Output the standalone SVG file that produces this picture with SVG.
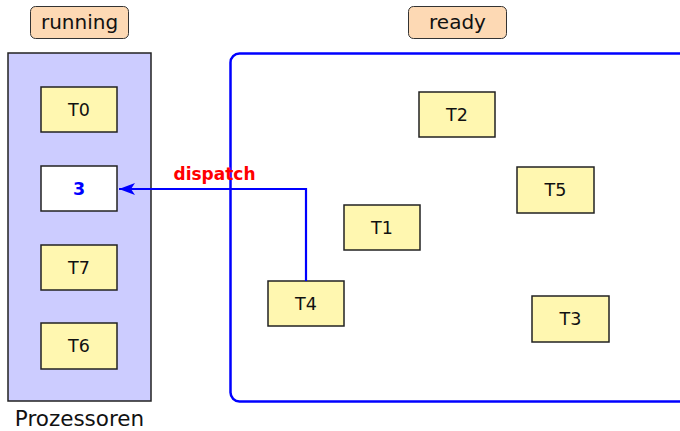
<svg xmlns="http://www.w3.org/2000/svg" width="680" height="431" viewBox="0 0 680 431">
<defs>
<style>
text{font-family:"DejaVu Sans","Liberation Sans",sans-serif;text-anchor:middle}
.tag{fill:#fdd9b4;stroke:#333;stroke-width:1}
.task{fill:#fff7b0;stroke:#222;stroke-width:1.5}
.lbl{font-size:17.5px;fill:#111}
</style>
<marker id="ah" markerWidth="18" markerHeight="14" refX="17" refY="7" orient="auto" markerUnits="userSpaceOnUse">
<path d="M1,1 L17,7 L1,13 L5,7 Z" fill="#0000ff"/>
</marker>
</defs>
<g id="running-tag"><rect class="tag" x="30.5" y="6.5" width="98" height="32" rx="5"/><text x="79.5" y="29" style="font-size:20px" fill="#111">running</text></g>
<g id="ready-tag"><rect class="tag" x="408.5" y="6.5" width="98" height="32" rx="5"/><text x="457.5" y="29" style="font-size:20px" fill="#111">ready</text></g>
<g id="processors"><rect x="8" y="53" width="143" height="348" fill="#ccccff" stroke="#222" stroke-width="1.5"/><text x="79.5" y="426" style="font-size:21.5px" fill="#111">Prozessoren</text></g>
<g id="ready-pool"><rect x="230.5" y="53.5" width="460" height="348" rx="9" fill="none" stroke="#0000ff" stroke-width="2.5"/></g>
<g id="T0"><rect class="task" x="41" y="87" width="76" height="45"/><text class="lbl" x="79" y="116">T0</text></g>
<g id="slot3"><rect x="41" y="166" width="76" height="45" fill="#fff" stroke="#222" stroke-width="1.5"/><text x="79" y="195" style="font-size:17.5px;font-weight:bold" fill="#0000ff">3</text></g>
<g id="T7"><rect class="task" x="41" y="245" width="76" height="45"/><text class="lbl" x="79" y="274">T7</text></g>
<g id="T6"><rect class="task" x="41" y="323" width="76" height="46"/><text class="lbl" x="79" y="352">T6</text></g>
<g id="T2"><rect class="task" x="419" y="92" width="76" height="45"/><text class="lbl" x="457" y="121">T2</text></g>
<g id="T5"><rect class="task" x="517" y="167" width="77" height="46"/><text class="lbl" x="555.5" y="196">T5</text></g>
<g id="T1"><rect class="task" x="344" y="205" width="76" height="45"/><text class="lbl" x="382" y="234">T1</text></g>
<g id="T4"><rect class="task" x="268" y="281" width="76" height="45"/><text class="lbl" x="306" y="310">T4</text></g>
<g id="T3"><rect class="task" x="532" y="296" width="77" height="46"/><text class="lbl" x="570.5" y="325">T3</text></g>
<g id="connectors">
<polyline points="306,281 306,189 119,189" fill="none" stroke="#0000ff" stroke-width="2.2" marker-end="url(#ah)"/>
<text x="214.5" y="180" style="font-size:17px;font-weight:bold" fill="#ff0000">dispatch</text>
</g>
</svg>
